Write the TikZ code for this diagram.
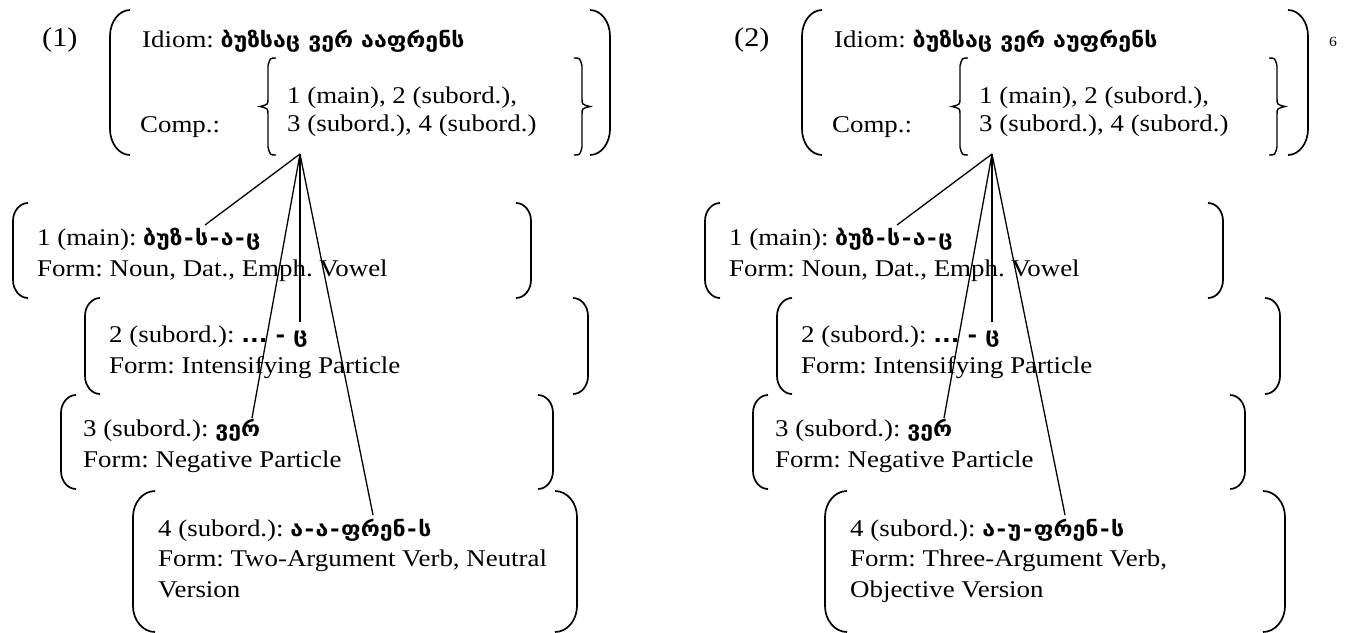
\documentclass[tikz,border=0pt]{standalone}
\usepackage{fontspec}
\setmainfont{Liberation Serif}[FakeStretch=1.12]
\newfontfamily\geo{DejaVu Sans}[FakeStretch=1.1]
\newcommand\ka[1]{{\geo\bfseries\fontsize{21}{24}\selectfont #1}}
\newcommand\gh{\kern1.5pt-\kern1.5pt}
% round brackets: x, top, bottom, hook width, hook height
\newcommand\myLP[5]{\draw[par] (#1+#4,#2) .. controls (#1+0.45*#4,#2) and (#1,#2+0.45*#5) .. (#1,#2+#5) -- (#1,#3-#5) .. controls (#1,#3-0.45*#5) and (#1+0.45*#4,#3) .. (#1+#4,#3);}
\newcommand\myRP[5]{\draw[par] (#1-#4,#2) .. controls (#1-0.45*#4,#2) and (#1,#2+0.45*#5) .. (#1,#2+#5) -- (#1,#3-#5) .. controls (#1,#3-0.45*#5) and (#1-0.45*#4,#3) .. (#1-#4,#3);}
% curly braces: x, top, bottom
\newcommand\myLB[3]{\draw[brc] (#1+8,#2) .. controls (#1+2,#2) .. (#1,#2+8) -- (#1,{(#2+#3)/2-8}) .. controls (#1,{(#2+#3)/2-2}) .. (#1-8,{(#2+#3)/2}) .. controls (#1,{(#2+#3)/2+2}) .. (#1,{(#2+#3)/2+8}) -- (#1,#3-8) .. controls (#1+2,#3) .. (#1+8,#3);}
\newcommand\myRB[3]{\draw[brc] (#1-8,#2) .. controls (#1-2,#2) .. (#1,#2+8) -- (#1,{(#2+#3)/2-8}) .. controls (#1,{(#2+#3)/2-2}) .. (#1+8,{(#2+#3)/2}) .. controls (#1,{(#2+#3)/2+2}) .. (#1,{(#2+#3)/2+8}) -- (#1,#3-8) .. controls (#1-2,#3) .. (#1-8,#3);}
\tikzset{
  txt/.style={anchor=base west,inner sep=0pt,font=\fontsize{24}{29}\selectfont},
  big/.style={anchor=base west,inner sep=0pt,font=\fontsize{27}{30}\selectfont},
  par/.style={line width=1.7pt},
  brc/.style={line width=1.4pt},
  conn/.style={line width=1.3pt}
}
\frenchspacing
\begin{document}
\begin{tikzpicture}[x=1pt,y=-1pt]
\useasboundingbox (0,0) rectangle (1351,632);
% ===================== Diagram (1) =====================
\node[big] (n1) at (42,46) {(1)};
\myLP{110}{10}{155}{20}{26}
\myRP{610}{10}{155}{20}{26}
\node[txt] (id1) at (142,47) {Idiom: \ka{ბუზსაც ვერ ააფრენს}};
\node[txt] (cp1) at (140,132) {Comp.:};
\myLB{268}{58}{155}
\myRB{582}{58}{155}
\node[txt] (cla1) at (287,103) {1 (main), 2 (subord.),};
\node[txt] (clb1) at (287,131) {3 (subord.), 4 (subord.)};
\coordinate (ap1) at (300,154);
% boxes
\myLP{13}{203}{298}{15}{18}\myRP{531}{203}{298}{15}{18}
\node[txt] (b11a) at (37,245) {1 (main): \ka{ბუზ\gh ს\gh ა\gh ც}};
\node[txt] (b11b) at (37,276) {Form: Noun, Dat., Emph. Vowel};
\myLP{85}{298}{394}{15}{18}\myRP{588}{298}{394}{15}{18}
\node[txt] (b12a) at (109,342) {2 (subord.): \ka{... - ც}};
\node[txt] (b12b) at (109,373) {Form: Intensifying Particle};
\myLP{61}{395}{489}{15}{18}\myRP{553}{395}{489}{15}{18}
\node[txt] (b13a) at (83,436) {3 (subord.): \ka{ვერ}};
\node[txt] (b13b) at (83,467) {Form: Negative Particle};
\myLP{133}{491}{632}{22}{26}\myRP{577}{491}{632}{22}{26}
\node[txt] (b14a) at (158,536) {4 (subord.): \ka{ა\gh ა\gh ფრენ\gh ს}};
\node[txt] (b14b) at (158,566) {Form: Two-Argument Verb, Neutral};
\node[txt] (b14c) at (158,597) {Version};
\coordinate (e11) at (205,225);
\coordinate (e12) at (300,322);
\coordinate (e13) at (252,418);
\coordinate (e14) at (373,515);
\draw[conn] (ap1) -- (e11);
\draw[conn] (ap1) -- (e12);
\draw[conn] (ap1) -- (e13);
\draw[conn] (ap1) -- (e14);
% ===================== Diagram (2) =====================
\begin{scope}[xshift=692pt]
\node[big] (n2) at (42,46) {(2)};
\myLP{110}{10}{155}{20}{26}
\myRP{616}{10}{155}{20}{26}
\node[txt] (id2) at (142,47) {Idiom: \ka{ბუზსაც ვერ აუფრენს}};
\node[txt] (cp2) at (140,132) {Comp.:};
\myLB{268}{58}{155}
\myRB{585}{58}{155}
\node[txt] (cla2) at (287,103) {1 (main), 2 (subord.),};
\node[txt] (clb2) at (287,131) {3 (subord.), 4 (subord.)};
\coordinate (ap2) at (300,154);
\myLP{13}{203}{298}{15}{18}\myRP{531}{203}{298}{15}{18}
\node[txt] (b21a) at (37,245) {1 (main): \ka{ბუზ\gh ს\gh ა\gh ც}};
\node[txt] (b21b) at (37,276) {Form: Noun, Dat., Emph. Vowel};
\myLP{85}{298}{394}{15}{18}\myRP{588}{298}{394}{15}{18}
\node[txt] (b22a) at (109,342) {2 (subord.): \ka{... - ც}};
\node[txt] (b22b) at (109,373) {Form: Intensifying Particle};
\myLP{61}{395}{489}{15}{18}\myRP{553}{395}{489}{15}{18}
\node[txt] (b23a) at (83,436) {3 (subord.): \ka{ვერ}};
\node[txt] (b23b) at (83,467) {Form: Negative Particle};
\myLP{133}{491}{632}{22}{26}\myRP{593}{491}{632}{22}{26}
\node[txt] (b24a) at (158,536) {4 (subord.): \ka{ა\gh უ\gh ფრენ\gh ს}};
\node[txt] (b24b) at (158,566) {Form: Three-Argument Verb,};
\node[txt] (b24c) at (158,597) {Objective Version};
\coordinate (e21) at (205,225);
\coordinate (e22) at (300,322);
\coordinate (e23) at (252,418);
\coordinate (e24) at (373,515);
\draw[conn] (ap2) -- (e21);
\draw[conn] (ap2) -- (e22);
\draw[conn] (ap2) -- (e23);
\draw[conn] (ap2) -- (e24);
\node[anchor=base,inner sep=0pt,font=\fontsize{14}{16}\selectfont] (fn) at (641,46) {6};
\end{scope}
\end{tikzpicture}
\end{document}
